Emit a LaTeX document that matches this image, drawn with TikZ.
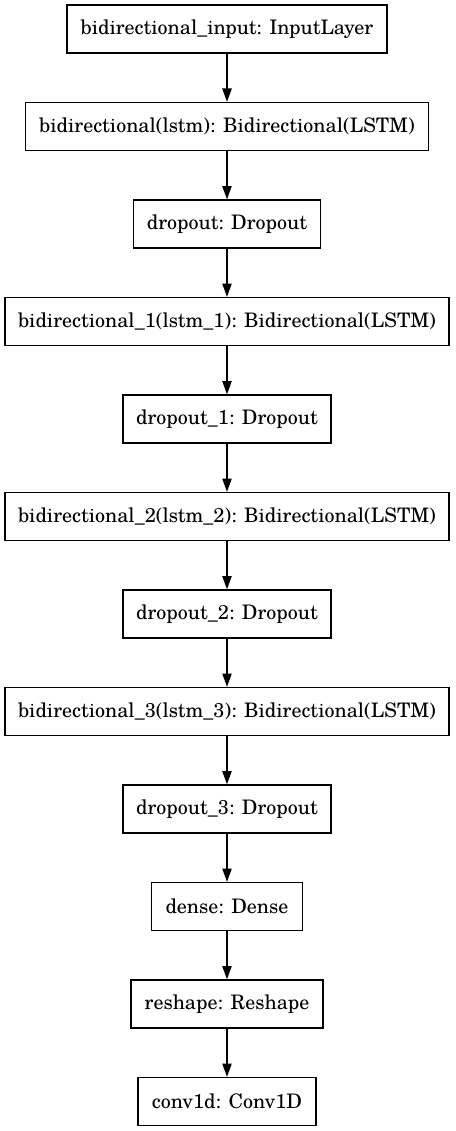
\documentclass[tikz,border=0pt]{standalone}
\usepackage{fontspec}
\setmainfont{TeX Gyre Schola}
\usetikzlibrary{arrows.meta}
\begin{document}
\begin{tikzpicture}[x=0.75pt,y=-0.75pt,
  layer/.style={draw,line width=1pt,minimum height=36pt,inner sep=0pt,font=\fontsize{15}{17}\selectfont},
  flow/.style={line width=1pt,-{Triangle[length=10pt,width=7pt]}}]
\useasboundingbox (0,0) rectangle (455,1131);
% layers, top to bottom
\foreach \n/\w/\t [count=\i from 0] in {
  input/320/bidirectional\_input: InputLayer,
  bilstm/403/bidirectional(lstm): Bidirectional(LSTM),
  drop/187/dropout: Dropout,
  bilstma/444/bidirectional\_1(lstm\_1): Bidirectional(LSTM),
  dropa/208/dropout\_1: Dropout,
  bilstmb/444/bidirectional\_2(lstm\_2): Bidirectional(LSTM),
  dropb/208/dropout\_2: Dropout,
  bilstmc/444/bidirectional\_3(lstm\_3): Bidirectional(LSTM),
  dropc/208/dropout\_3: Dropout,
  dense/151/dense: Dense,
  reshape/192/reshape: Reshape,
  conv/178/conv1d: Conv1D}
  \node[layer,minimum width=\w*0.75pt] (\n) at (227,{29+97.5*\i}) {\t};
% connections
\foreach \a/\b in {input/bilstm,bilstm/drop,drop/bilstma,bilstma/dropa,dropa/bilstmb,
  bilstmb/dropb,dropb/bilstmc,bilstmc/dropc,dropc/dense,dense/reshape,reshape/conv}
  \draw[flow] (\a) -- (\b);
\end{tikzpicture}
\end{document}
